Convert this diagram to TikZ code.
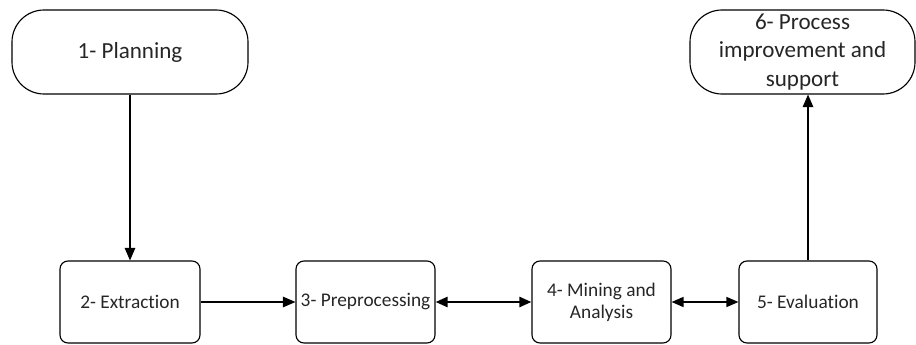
\documentclass[tikz,border=0pt]{standalone}
\usepackage{fontspec}
\setmainfont{Carlito}[Ligatures=NoCommon]
\usetikzlibrary{arrows.meta}

\tikzset{every picture/.style={line width=0.85pt}}
\tikzset{
  phasebox/.style={draw, rounded corners=24pt, minimum height=63pt, align=center, inner sep=0pt, text=black!85, font=\fontsize{17.3}{21.4}\selectfont},
  stepbox/.style={draw, rounded corners=6pt, minimum height=61.5pt, align=center, inner sep=0pt, text=black!85, font=\fontsize{14.5}{16.5}\selectfont},
  tipline/.style={-{Triangle[length=9.5pt,width=8pt]}},
  bothline/.style={{Triangle[length=9pt,width=7.5pt]}-{Triangle[length=9pt,width=7.5pt]}},
}

\begin{document}
\begin{tikzpicture}[x=0.75pt,y=0.75pt,yscale=-1,xscale=1]
%set diagram size
\path (0,0) rectangle (916,345);

% Phase Nodes
\node [phasebox, minimum width=177pt] (plan) at (130,52) {1- Planning};
\node [phasebox, minimum width=168.75pt] (impr) at (802.5,52) {6- Process\\improvement and\\support};

% Step Nodes
\node [stepbox, minimum width=105pt] (extr) at (130,302) {2- Extraction};
\node [stepbox, minimum width=104.25pt] (prep) at (365.5,302) {3- Preprocessing};
\node [stepbox, minimum width=104.25pt] (mine) at (601.5,302) {4- Mining and\\Analysis};
\node [stepbox, minimum width=103.5pt] (eval) at (808,302) {5- Evaluation};

% Connectors
\draw [tipline] (plan) -- (extr);
\draw [tipline] (extr) -- (prep);
\draw [bothline, line width=1.8pt] (prep) -- (mine);
\draw [bothline, line width=1.1pt] (mine) -- (eval);
\draw [tipline] (eval.north) -- (eval.north |- impr.south);

\end{tikzpicture}
\end{document}
